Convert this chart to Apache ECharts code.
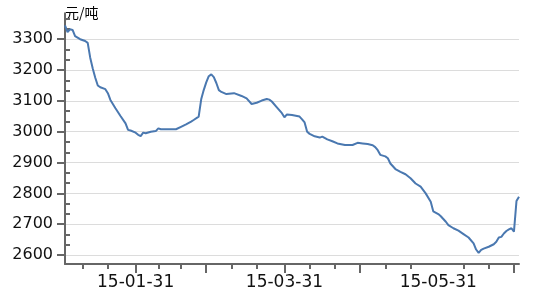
<!DOCTYPE html>
<html>
<head>
<meta charset="utf-8">
<script src="https://cdn.jsdelivr.net/npm/echarts@6/dist/echarts.min.js"></script>
<style>html,body{margin:0;padding:0;background:#fff}#c{width:550px;height:300px}</style>
</head>
<body>
<div id="c"></div>
<script>
// ---- data ----
const dates = [
 '2015-01-03','2015-01-04','2015-01-05','2015-01-06','2015-01-07','2015-01-09','2015-01-11','2015-01-12','2015-01-13','2015-01-14','2015-01-15','2015-01-16','2015-01-17','2015-01-19','2015-01-20','2015-01-21','2015-01-23','2015-01-25','2015-01-27','2015-01-28','2015-01-29','2015-01-31',
 '2015-02-01','2015-02-02','2015-02-03','2015-02-04','2015-02-06','2015-02-08','2015-02-09','2015-02-10','2015-02-13','2015-02-16','2015-02-18','2015-02-20','2015-02-22','2015-02-23','2015-02-25','2015-02-26','2015-02-27','2015-02-28',
 '2015-03-01','2015-03-02','2015-03-03','2015-03-04','2015-03-05','2015-03-06','2015-03-08','2015-03-10','2015-03-11','2015-03-14','2015-03-16','2015-03-18','2015-03-20','2015-03-22','2015-03-24','2015-03-25','2015-03-26','2015-03-28','2015-03-30','2015-03-31',
 '2015-04-01','2015-04-03','2015-04-06','2015-04-07','2015-04-08','2015-04-09','2015-04-10','2015-04-12','2015-04-14','2015-04-15','2015-04-17','2015-04-19','2015-04-21','2015-04-24','2015-04-27','2015-04-29',
 '2015-05-01','2015-05-03','2015-05-05','2015-05-06','2015-05-07','2015-05-08','2015-05-10','2015-05-11','2015-05-12','2015-05-14','2015-05-16','2015-05-18','2015-05-20','2015-05-22','2015-05-24','2015-05-26','2015-05-28','2015-05-29','2015-05-31',
 '2015-06-01','2015-06-03','2015-06-04','2015-06-06','2015-06-08','2015-06-10','2015-06-12','2015-06-14','2015-06-15','2015-06-16','2015-06-17','2015-06-18','2015-06-20','2015-06-22','2015-06-23','2015-06-24','2015-06-25','2015-06-26','2015-06-27','2015-06-28','2015-06-29','2015-06-30',
 '2015-07-01','2015-07-02'
];
const prices = [
 3345,3323,3332,3330,3310,3300,3294,3288,3240,3205,3175,3150,3144,3138,3125,3103,3076,3051,3027,3006,3004,2997,
 2990,2986,2997,2995,3000,3002,3011,3008,3008,3008,3016,3024,3033,3038,3049,3105,3135,3160,
 3180,3186,3177,3158,3135,3129,3122,3124,3125,3116,3108,3090,3094,3101,3106,3104,3098,3079,3060,3047,
 3056,3054,3049,3040,3030,3000,2993,2985,2981,2984,2975,2969,2962,2957,2957,2964,
 2962,2960,2956,2950,2940,2925,2920,2914,2897,2879,2870,2862,2849,2832,2822,2800,2773,2742,2733,
 2726,2708,2697,2687,2679,2668,2657,2638,2618,2607,2617,2621,2627,2635,2643,2657,2659,2670,2678,2683,2687,2676,
 2775,2789
];
const xStart = '2015-01-03';
const xEnd = '2015-07-02';
const shortTickDates = ['2015-01-10','2015-01-20','2015-02-09','2015-02-18','2015-03-10','2015-03-20','2015-04-10','2015-04-20','2015-05-10','2015-05-20','2015-06-10','2015-06-20'];
const monthEndTickDates = ['2015-01-31','2015-02-28','2015-03-31','2015-04-30','2015-05-31','2015-06-30'];
const xLabelDates = ['2015-01-31','2015-03-31','2015-05-31'];
const yTicks = [2600,2700,2800,2900,3000,3100,3200,3300];
const yMin = 2571, yMax = 3384;
const yName = '元/吨';

// minor ticks: two between each pair of major ticks
const yMinor = [];
for (let k = -1; k < yTicks.length; k++) {
  const base = yTicks[0] + k * 100;
  [base + 100/3, base + 200/3].forEach(v => { if (v > yMin && v < yMax) yMinor.push(v); });
}

const axisCol = '#666666';
const font = 'DejaVu Sans';
const chart = echarts.init(document.getElementById('c'), null, {renderer: 'canvas'});
chart.setOption({
  animation: false,
  backgroundColor: '#fff',
  grid: {left: 65, right: 31, top: 13.3, bottom: 36},
  xAxis: [{
    type: 'time', min: xStart, max: xEnd, position: 'bottom',
    axisLine: {show: true, onZero: false, lineStyle: {color: axisCol, width: 2}},
    axisTick: {show: true, customValues: shortTickDates, length: 5, lineStyle: {color: axisCol, width: 2}},
    axisLabel: {show: false},
    splitLine: {show: false}
  }, {
    type: 'time', min: xStart, max: xEnd, position: 'bottom',
    axisLine: {show: false},
    axisTick: {show: true, customValues: monthEndTickDates, length: 9, lineStyle: {color: axisCol, width: 2}},
    axisLabel: {show: true, customValues: xLabelDates, formatter: '{yy}-{MM}-{dd}', fontSize: 17, fontFamily: font, color: '#111', margin: 10},
    splitLine: {show: false}
  }],
  yAxis: [{
    type: 'value', min: yMin, max: yMax, position: 'left',
    name: yName, nameLocation: 'end', nameGap: 1,
    nameTextStyle: {align: 'left', verticalAlign: 'middle', fontSize: 14, fontFamily: 'Noto Sans CJK SC', color: '#000', padding: [0, 0, 0, 0]},
    axisLine: {show: true, onZero: false, lineStyle: {color: axisCol, width: 2}},
    axisTick: {show: true, customValues: yTicks, length: 8, lineStyle: {color: axisCol, width: 2}},
    axisLabel: {show: true, customValues: yTicks, formatter: v => String(v), fontSize: 16, fontFamily: font, color: '#111', margin: 12},
    splitLine: {show: true, lineStyle: {color: '#dcdcdc', width: 1}}
  }, {
    type: 'value', min: yMin, max: yMax, position: 'left',
    axisLine: {show: false},
    axisTick: {show: true, inside: true, customValues: yMinor, length: 5, lineStyle: {color: axisCol, width: 2}},
    axisLabel: {show: false},
    splitLine: {show: false}
  }],
  series: [{
    type: 'line', xAxisIndex: 0, yAxisIndex: 0,
    showSymbol: false, symbol: 'none',
    lineStyle: {color: '#4a78b0', width: 2},
    data: dates.map((d, i) => [d, prices[i]])
  }]
});
</script>
</body>
</html>
